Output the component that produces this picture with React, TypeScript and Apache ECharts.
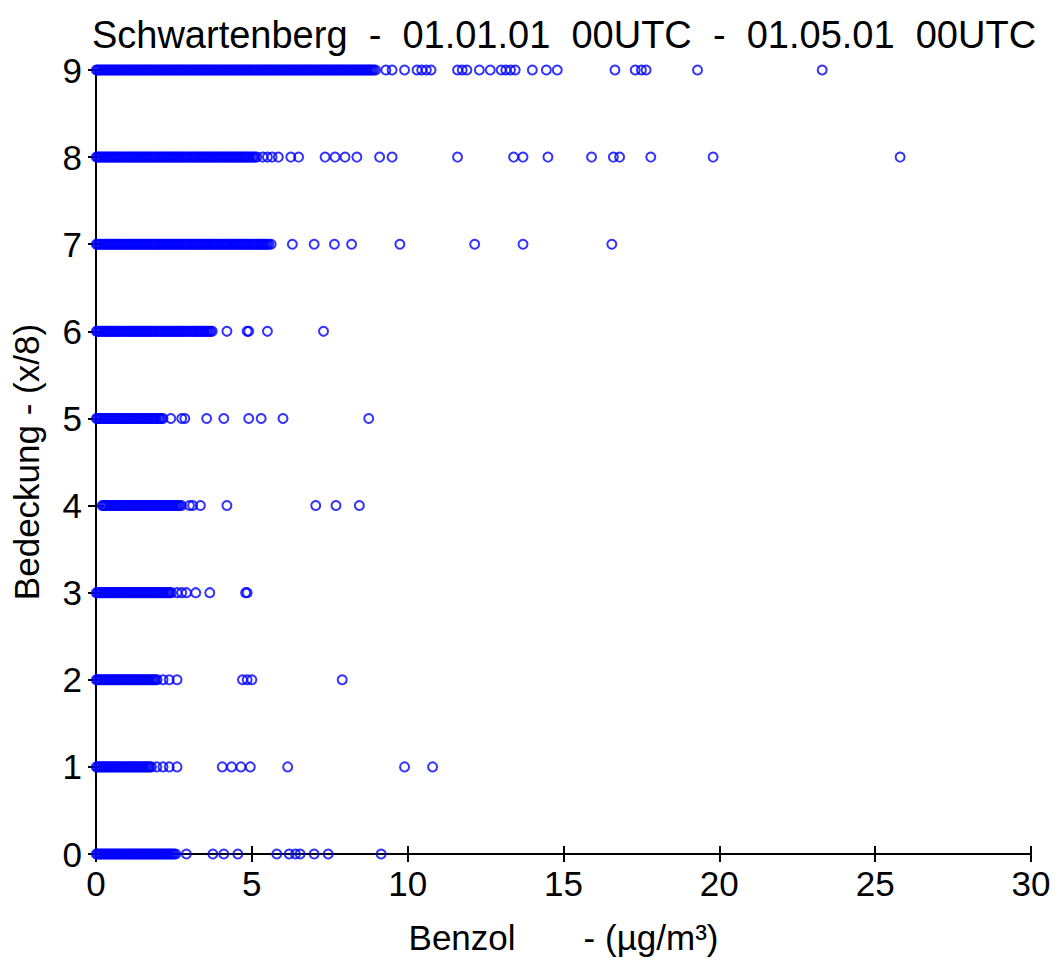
import React, { useEffect, useRef } from "react";
import * as echarts from "echarts";

const titleText = "Schwartenberg  -  01.01.01  00UTC  -  01.05.01  00UTC";
const xName = "Benzol       - (µg/m³)";
const yName = "Bedeckung - (x/8)";
const xTicks = [0, 5, 10, 15, 20, 25, 30];
const yTicks = [0, 1, 2, 3, 4, 5, 6, 7, 8, 9];

// Benzol values (µg/m³) per cloud cover class (x/8)
const cover9 = [
  0.01,0.05,0.1,0.14,0.19,0.23,0.28,0.32,0.37,0.41,0.46,0.5,0.55,0.59,0.64,0.68,0.73,0.77,0.82,0.86,0.91,0.95,
  1.01,1.05,1.1,1.14,1.19,1.23,1.28,1.32,1.37,1.41,1.46,1.5,1.55,1.59,1.64,1.68,1.73,1.77,1.82,1.86,1.91,1.95,
  2.01,2.05,2.1,2.14,2.19,2.23,2.28,2.32,2.37,2.41,2.46,2.5,2.55,2.59,2.64,2.68,2.73,2.77,2.82,2.86,2.91,2.95,
  3.01,3.05,3.1,3.14,3.19,3.23,3.28,3.32,3.37,3.41,3.46,3.5,3.55,3.59,3.64,3.68,3.73,3.77,3.82,3.86,3.91,3.95,
  4.01,4.05,4.1,4.14,4.19,4.23,4.28,4.32,4.37,4.41,4.46,4.5,4.55,4.59,4.64,4.68,4.73,4.77,4.82,4.86,4.91,4.95,
  5.01,5.05,5.1,5.14,5.19,5.23,5.28,5.32,5.37,5.41,5.46,5.5,5.55,5.59,5.64,5.68,5.73,5.77,5.82,5.86,5.91,5.95,
  6.01,6.05,6.1,6.14,6.19,6.23,6.28,6.32,6.37,6.41,6.46,6.5,6.55,6.59,6.64,6.68,6.73,6.77,6.82,6.86,6.91,6.95,
  7.01,7.05,7.1,7.14,7.19,7.23,7.28,7.32,7.37,7.41,7.46,7.5,7.55,7.59,7.64,7.68,7.73,7.77,7.82,7.86,7.91,7.95,
  8.01,8.05,8.1,8.14,8.19,8.23,8.28,8.32,8.37,8.41,8.46,8.5,8.55,8.59,8.64,8.68,8.73,8.77,8.82,8.86,8.91,8.97,
  9.3,9.5,9.9,10.3,10.45,10.6,10.75,11.6,11.75,11.9,12.3,12.65,13.0,13.15,13.3,13.45,14.0,14.45,14.8,16.65,17.3,17.5,17.65,19.3,23.3];
const cover8 = [
  0.01,0.05,0.1,0.14,0.19,0.23,0.28,0.32,0.37,0.41,0.46,0.5,0.55,0.59,0.64,0.68,0.73,0.77,0.82,0.86,0.91,0.95,
  1.01,1.05,1.1,1.14,1.19,1.23,1.28,1.32,1.37,1.41,1.46,1.5,1.55,1.59,1.64,1.68,1.73,1.77,1.82,1.86,1.91,1.95,
  2.01,2.05,2.1,2.14,2.19,2.23,2.28,2.32,2.37,2.41,2.46,2.5,2.55,2.59,2.64,2.68,2.73,2.77,2.82,2.86,2.91,2.95,
  3.01,3.05,3.1,3.14,3.19,3.23,3.28,3.32,3.37,3.41,3.46,3.5,3.55,3.59,3.64,3.68,3.73,3.77,3.82,3.86,3.91,3.95,
  4.01,4.05,4.1,4.14,4.19,4.23,4.28,4.32,4.37,4.41,4.46,4.5,4.55,4.59,4.64,4.68,4.73,4.77,4.82,4.86,4.91,4.95,
  5.01,5.05,5.1,5.16,
  5.35,5.5,5.65,5.85,6.25,6.5,7.35,7.67,7.99,8.37,9.1,9.5,11.6,13.4,13.7,14.5,15.9,16.6,16.8,17.8,19.8,25.8];
const cover7 = [
  0.01,0.05,0.1,0.14,0.19,0.23,0.28,0.32,0.37,0.41,0.46,0.5,0.55,0.59,0.64,0.68,0.73,0.77,0.82,0.86,0.91,0.95,
  1.01,1.05,1.1,1.14,1.19,1.23,1.28,1.32,1.37,1.41,1.46,1.5,1.55,1.59,1.64,1.68,1.73,1.77,1.82,1.86,1.91,1.95,
  2.01,2.05,2.1,2.14,2.19,2.23,2.28,2.32,2.37,2.41,2.46,2.5,2.55,2.59,2.64,2.68,2.73,2.77,2.82,2.86,2.91,2.95,
  3.01,3.05,3.1,3.14,3.19,3.23,3.28,3.32,3.37,3.41,3.46,3.5,3.55,3.59,3.64,3.68,3.73,3.77,3.82,3.86,3.91,3.95,
  4.01,4.05,4.1,4.14,4.19,4.23,4.28,4.32,4.37,4.41,4.46,4.5,4.55,4.59,4.64,4.68,4.73,4.77,4.82,4.86,4.91,4.95,
  5.01,5.05,5.1,5.14,5.19,5.23,5.28,5.32,5.37,5.41,5.46,5.5,5.55,5.62,
  6.3,7.0,7.65,8.2,9.75,12.15,13.7,16.55];
const cover6 = [
  0.01,0.05,0.1,0.14,0.19,0.23,0.28,0.32,0.37,0.41,0.46,0.5,0.55,0.59,0.64,0.68,0.73,0.77,0.82,0.86,0.91,0.95,
  1.01,1.05,1.1,1.14,1.19,1.23,1.28,1.32,1.37,1.41,1.46,1.5,1.55,1.59,1.64,1.68,1.73,1.77,1.82,1.86,1.91,1.95,
  2.01,2.05,2.1,2.14,2.19,2.23,2.28,2.32,2.37,2.41,2.46,2.5,2.55,2.59,2.64,2.68,2.73,2.77,2.82,2.86,2.91,2.95,
  3.01,3.05,3.1,3.14,3.19,3.23,3.28,3.32,3.37,3.41,3.46,3.5,3.55,3.59,3.64,3.68,3.73,
  4.2,4.85,4.9,5.5,7.3];
const cover5 = [
  0.01,0.05,0.1,0.14,0.19,0.23,0.28,0.32,0.37,0.41,0.46,0.5,0.55,0.59,0.64,0.68,0.73,0.77,0.82,0.86,0.91,0.95,
  1.01,1.05,1.1,1.14,1.19,1.23,1.28,1.32,1.37,1.41,1.46,1.5,1.55,1.59,1.64,1.68,1.73,1.77,1.82,1.86,1.91,1.95,
  2.01,2.05,2.1,2.15,
  2.4,2.75,2.85,3.55,4.1,4.9,5.3,6.0,8.75];
const cover4 = [
  0.2,0.24,0.28,0.32,0.37,0.41,0.46,0.5,0.55,0.59,0.64,0.68,0.73,0.77,0.82,0.86,0.91,0.95,
  1.01,1.05,1.1,1.14,1.19,1.23,1.28,1.32,1.37,1.41,1.46,1.5,1.55,1.59,1.64,1.68,1.73,1.77,1.82,1.86,1.91,1.95,
  2.01,2.05,2.1,2.14,2.19,2.23,2.28,2.32,2.37,2.41,2.46,2.5,2.55,2.59,2.64,2.68,2.74,
  3.0,3.1,3.35,4.2,7.05,7.7,8.45];
const cover3 = [
  0.01,0.05,0.1,0.14,0.19,0.23,0.28,0.32,0.37,0.41,0.46,0.5,0.55,0.59,0.64,0.68,0.73,0.77,0.82,0.86,0.91,0.95,
  1.01,1.05,1.1,1.14,1.19,1.23,1.28,1.32,1.37,1.41,1.46,1.5,1.55,1.59,1.64,1.68,1.73,1.77,1.82,1.86,1.91,1.95,
  2.01,2.05,2.1,2.14,2.19,2.23,2.28,2.32,2.37,2.42,
  2.6,2.75,2.9,3.2,3.65,4.8,4.85];
const cover2 = [
  0.01,0.05,0.1,0.14,0.19,0.23,0.28,0.32,0.37,0.41,0.46,0.5,0.55,0.59,0.64,0.68,0.73,0.77,0.82,0.86,0.91,0.95,
  1.01,1.05,1.1,1.14,1.19,1.23,1.28,1.32,1.37,1.41,1.46,1.5,1.55,1.59,1.64,1.68,1.73,1.77,1.82,1.86,1.91,1.96,
  2.15,2.35,2.6,4.7,4.85,5.0,7.9];
const cover1 = [
  0.01,0.05,0.1,0.14,0.19,0.23,0.28,0.32,0.37,0.41,0.46,0.5,0.55,0.59,0.64,0.68,0.73,0.77,0.82,0.86,0.91,0.95,
  1.01,1.05,1.1,1.14,1.19,1.23,1.28,1.32,1.37,1.41,1.46,1.5,1.55,1.59,1.64,1.68,1.73,1.78,
  1.95,2.15,2.35,2.6,4.05,4.35,4.65,4.95,6.15,9.9,10.8];
const cover0 = [
  0.01,0.05,0.1,0.14,0.19,0.23,0.28,0.32,0.37,0.41,0.46,0.5,0.55,0.59,0.64,0.68,0.73,0.77,0.82,0.86,0.91,0.95,
  1.01,1.05,1.1,1.14,1.19,1.23,1.28,1.32,1.37,1.41,1.46,1.5,1.55,1.59,1.64,1.68,1.73,1.77,1.82,1.86,1.91,1.95,
  2.01,2.05,2.1,2.14,2.19,2.23,2.28,2.32,2.37,2.41,2.46,2.5,2.56,
  2.9,3.75,4.1,4.55,5.8,6.2,6.4,6.55,7.0,7.45,9.15];

const rows = [cover0, cover1, cover2, cover3, cover4, cover5, cover6, cover7, cover8, cover9];

const FONT = "Liberation Sans, Arial, sans-serif";
const FS = 35;

export default function App() {
  const ref = useRef<HTMLDivElement>(null);
  useEffect(() => {
    if (!ref.current) return;
    document.body.style.margin = "0";
    document.body.style.overflow = "hidden";
    const chart = echarts.init(ref.current, null, { renderer: "svg" });
    const data: number[][] = [];
    rows.forEach((vals, cover) => vals.forEach((v) => data.push([v, cover])));
    const axisLine = { show: true, lineStyle: { color: "#000", width: 2 } };
    const tick = { show: true, inside: true, length: 8, lineStyle: { color: "#000", width: 2 } };
    const xmin = xTicks[0], xmax = xTicks[xTicks.length - 1];
    const ymin = yTicks[0], ymax = yTicks[yTicks.length - 1];
    chart.setOption({
      animation: false,
      backgroundColor: "#fff",
      title: {
        text: titleText,
        left: 559,
        textAlign: "center",
        top: 11,
        textStyle: { fontFamily: FONT, fontSize: 38, fontWeight: "normal", color: "#000" },
      },
      grid: { left: 96, top: 70, width: 935, height: 784, containLabel: false },
      xAxis: [
        {
          type: "value", min: xmin, max: xmax, interval: 5, position: "bottom",
          axisLine, axisTick: tick, splitLine: { show: false },
          axisLabel: { margin: 12, fontFamily: FONT, fontSize: FS, color: "#000" },
          name: xName, nameLocation: "middle", nameGap: 66,
          nameTextStyle: { fontFamily: FONT, fontSize: FS, color: "#000" },
        },
        {
          type: "value", min: xmin, max: xmax, interval: 5, position: "top",
          axisLine, axisTick: tick, splitLine: { show: false }, axisLabel: { show: false },
        },
      ],
      yAxis: [
        {
          type: "value", min: ymin, max: ymax, interval: 1, position: "left",
          axisLine, axisTick: tick, splitLine: { show: false },
          axisLabel: { margin: 14, fontFamily: FONT, fontSize: FS, color: "#000" },
          name: yName, nameLocation: "middle", nameGap: 52,
          nameTextStyle: { fontFamily: FONT, fontSize: FS, color: "#000" },
        },
        {
          type: "value", min: ymin, max: ymax, interval: 1, position: "right",
          axisLine, axisTick: tick, splitLine: { show: false }, axisLabel: { show: false },
        },
      ],
      series: [
        {
          type: "scatter",
          data,
          symbol: "circle",
          symbolSize: 9,
          clip: false,
          itemStyle: { color: "rgba(0,0,0,0)", borderColor: "#0000ff", borderWidth: 2 },
          emphasis: { disabled: true },
        },
      ],
    });
    return () => chart.dispose();
  }, []);
  return <div ref={ref} style={{ width: 1055, height: 960, overflow: "hidden" }} />;
}
